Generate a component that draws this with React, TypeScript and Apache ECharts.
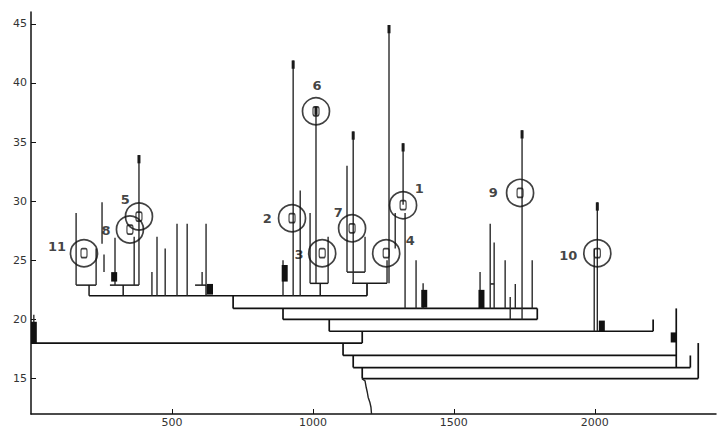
import React, { useEffect, useRef } from "react";
import * as echarts from "echarts";

// Axis ticks
const xTicks = [500, 1000, 1500, 2000];
const yTicks = [15, 20, 25, 30, 35, 40, 45];

// Main merge levels: [y, xStart, xEnd]
const mainBars: number[][] = [
  [22.0, 206, 1192],
  [20.93, 717, 1796],
  [20.0, 894, 1796],
  [19.0, 1058, 2207],
  [18.0, 0, 1175],
  [16.95, 1107, 2289],
  [15.93, 1143, 2339],
  [15.0, 1175, 2367],
];

// Main joints: [x, yLow, yHigh]
const mainJoints: number[][] = [
  [717, 20.93, 22.0],
  [894, 20.0, 20.93],
  [1796, 20.0, 20.93],
  [1058, 19.0, 20.0],
  [2207, 19.0, 20.0],
  [1175, 18.0, 19.0],
  [1107, 16.95, 18.0],
  [1143, 15.93, 16.95],
  [1175, 15.0, 15.93],
  [2289, 15.93, 20.93],
  [2339, 15.93, 16.95],
  [2367, 15.0, 18.0],
  [1192, 22.0, 23.05],
];

// Sub-cluster brackets: [y, xStart, xEnd]
const subBars: number[][] = [
  [22.9, 160, 231],
  [22.9, 280, 383],
  [23.05, 990, 1054],
  [23.05, 1139, 1263],
  [22.9, 582, 621],
  [23.0, 1629, 1643],
  [24.0, 1121, 1185],
];

// Sub-cluster joints: [x, yLow, yHigh]
const subJoints: number[][] = [
  [206, 22.0, 22.9],
  [327, 22.0, 22.9],
  [1026, 22.0, 23.05],
  [621, 22.0, 22.9],
];

// Leaf stems: [x, yLow, yHigh]
const stems: number[][] = [
  [160, 22.9, 29.0],
  [231, 22.9, 26.0],
  [252, 26.4, 29.9],
  [259, 24.0, 25.5],
  [298, 22.9, 26.9],
  [383, 22.9, 33.9],
  [366, 22.9, 27.0],
  [429, 22.0, 24.0],
  [447, 22.0, 27.0],
  [476, 22.0, 26.0],
  [518, 22.0, 28.1],
  [554, 22.0, 28.1],
  [607, 22.9, 24.0],
  [621, 22.9, 28.1],
  [894, 22.0, 25.0],
  [930, 22.0, 41.9],
  [955, 22.0, 30.9],
  [990, 23.05, 29.0],
  [1011, 23.05, 38.0],
  [1054, 23.05, 27.0],
  [1121, 24.0, 33.0],
  [1143, 23.05, 35.9],
  [1185, 24.0, 27.0],
  [1263, 23.05, 25.0],
  [1270, 23.05, 44.9],
  [1292, 26.0, 29.0],
  [1320, 29.7, 34.9],
  [1327, 20.93, 29.0],
  [1366, 20.93, 25.0],
  [1391, 20.93, 23.05],
  [1593, 20.93, 24.0],
  [1629, 20.93, 28.1],
  [1643, 20.93, 26.5],
  [1682, 20.93, 25.0],
  [1700, 20.0, 21.9],
  [1718, 20.93, 23.0],
  [1742, 20.0, 36.0],
  [1778, 20.93, 25.0],
  [1998, 19.0, 26.0],
  [2009, 19.0, 29.9],
  [10, 18.0, 20.4],
];

// Dense (filled) stretches: [x, yLow, yHigh]
const blocks: number[][] = [
  [295, 23.2, 24.0],
  [635, 22.1, 23.0],
  [900, 23.2, 24.6],
  [1395, 21.0, 22.5],
  [1598, 20.93, 22.5],
  [2025, 19.0, 19.9],
  [2280, 18.05, 18.9],
  [10, 18.0, 19.8],
];

// Stem tips: [x, yLow, yHigh]
const tips: number[][] = [
  [930, 41.2, 41.9],
  [1270, 44.2, 44.9],
  [383, 33.2, 33.9],
  [1742, 35.3, 36.0],
  [2009, 29.2, 29.9],
  [1143, 35.2, 35.9],
  [1320, 34.2, 34.9],
  [1011, 37.3, 38.0],
];

// Bottom trailing path
const tailX = [1174, 1185, 1189, 1193, 1196, 1202, 1206, 1208];
const tailY = [14.98, 14.8, 14.26, 13.84, 13.42, 13.0, 12.57, 12.0];

// Marked clusters
const clusterIds = ["1", "2", "3", "4", "5", "6", "7", "8", "9", "10", "11"];
const clusterX = [1320, 926, 1033, 1260, 383, 1011, 1139, 351, 1735, 2009, 188];
const clusterY = [29.66, 28.56, 25.6, 25.6, 28.7, 37.6, 27.7, 27.6, 30.7, 25.6, 25.6];
const labelX = [1377, 838, 951, 1345, 334, 1015, 1090, 266, 1640, 1906, 92];
const labelY = [31.1, 28.56, 25.5, 26.7, 30.1, 39.8, 29.07, 27.5, 30.76, 25.4, 26.2];

const hSeg = (rows: number[][]) => rows.map(([y, x1, x2]) => [x1, y, x2, y]);
const vSeg = (rows: number[][]) => rows.map(([x, y1, y2]) => [x, y1, x, y2]);

function segSeries(data: number[][], width: number, color: string) {
  return {
    type: "custom",
    data,
    encode: { x: [0, 2], y: [1, 3] },
    clip: true,
    silent: true,
    renderItem: (_p: any, api: any) => {
      const a = api.coord([api.value(0), api.value(1)]);
      const b = api.coord([api.value(2), api.value(3)]);
      return {
        type: "line",
        shape: { x1: a[0], y1: a[1], x2: b[0], y2: b[1] },
        style: { stroke: color, lineWidth: width, lineCap: "butt" },
      };
    },
  };
}

export default function App() {
  const ref = useRef<HTMLDivElement>(null);
  useEffect(() => {
    if (!ref.current) return;
    const chart = echarts.init(ref.current, null, { renderer: "svg" });
    const font = "DejaVu Sans";
    chart.setOption({
      animation: false,
      backgroundColor: "#ffffff",
      grid: { left: 31, right: 1, top: 12, bottom: 14 },
      xAxis: {
        type: "value",
        min: 0,
        max: 2430,
        axisLine: { show: true, onZero: false, lineStyle: { color: "#111", width: 1.5 } },
        axisTick: { show: true, inside: true, length: 5, customValues: xTicks, lineStyle: { color: "#111" } },
        axisLabel: {
          customValues: xTicks,
          formatter: (v: number) => String(v),
          margin: 3,
          fontSize: 11,
          color: "#333",
          fontFamily: font,
        },
        splitLine: { show: false },
      },
      yAxis: {
        type: "value",
        min: 12,
        max: 46,
        axisLine: { show: true, onZero: false, lineStyle: { color: "#111", width: 1.5 } },
        axisTick: { show: true, inside: true, length: 5, customValues: yTicks, lineStyle: { color: "#111" } },
        axisLabel: {
          customValues: yTicks,
          formatter: (v: number) => String(v),
          margin: 4,
          fontSize: 11,
          color: "#333",
          fontFamily: font,
        },
        splitLine: { show: false },
      },
      series: [
        segSeries(hSeg(mainBars), 1.7, "#111"),
        segSeries(vSeg(mainJoints), 1.7, "#111"),
        segSeries(hSeg(subBars), 1.5, "#1a1a1a"),
        segSeries(vSeg(subJoints), 1.5, "#1a1a1a"),
        segSeries(vSeg(stems), 1.4, "#2a2a2a"),
        segSeries(vSeg(blocks), 6, "#111"),
        segSeries(vSeg(tips), 3, "#1a1a1a"),
        {
          type: "line",
          data: tailX.map((x, i) => [x, tailY[i]]),
          showSymbol: false,
          lineStyle: { color: "#222", width: 1.4 },
          silent: true,
        },
        {
          type: "scatter",
          data: clusterX.map((x, i) => [x, clusterY[i]]),
          symbol: "circle",
          symbolSize: 27,
          itemStyle: { color: "rgba(0,0,0,0)", borderColor: "#111", borderWidth: 1.7 },
          silent: true,
        },
        {
          type: "scatter",
          data: clusterX.map((x, i) => [x, clusterY[i]]),
          symbol: "roundRect",
          symbolSize: [6, 9],
          itemStyle: { color: "rgba(0,0,0,0)", borderColor: "#111", borderWidth: 1.4 },
          silent: true,
        },
        {
          type: "scatter",
          data: labelX.map((x, i) => ({ name: clusterIds[i], value: [x, labelY[i]] })),
          symbolSize: 1,
          itemStyle: { color: "rgba(0,0,0,0)" },
          label: {
            show: true,
            position: "inside",
            formatter: (p: any) => p.name,
            fontSize: 13,
            fontWeight: "bold",
            color: "#111",
            fontFamily: font,
          },
          silent: true,
        },
      ],
    });
    return () => chart.dispose();
  }, []);
  return <div ref={ref} style={{ width: 717, height: 428, position: "absolute", left: 0, top: 0 }} />;
}
